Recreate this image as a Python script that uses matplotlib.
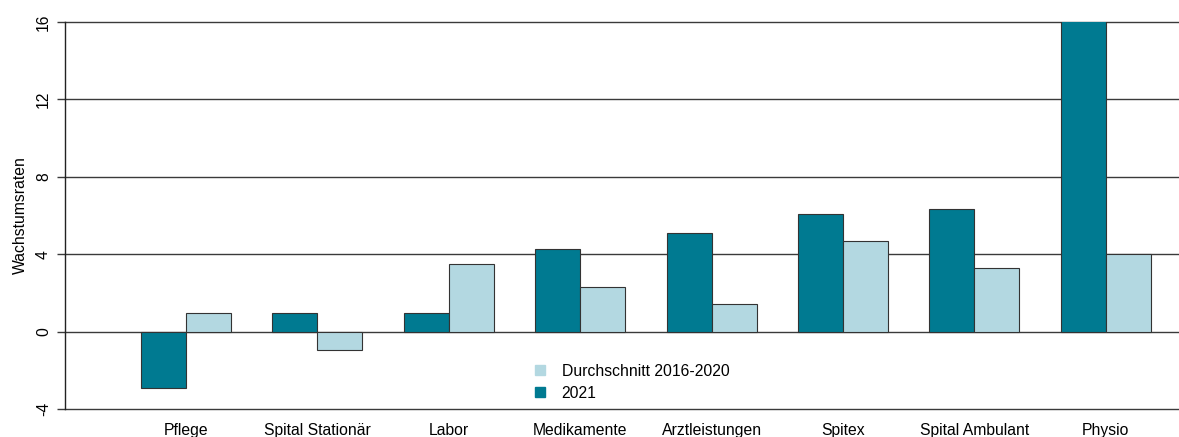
import matplotlib
matplotlib.use("Agg")
import matplotlib.pyplot as plt
from matplotlib.lines import Line2D
import numpy as np

plt.rcParams['font.family'] = ['Liberation Sans', 'DejaVu Sans']

# Data
kategorien = ["Pflege", "Spital Stationär", "Labor", "Medikamente",
              "Arztleistungen", "Spitex", "Spital Ambulant", "Physio"]
wert_2021 = [-2.9, 0.95, 0.95, 4.25, 5.1, 6.1, 6.35, 16.5]
durchschnitt = [0.95, -0.95, 3.5, 2.3, 1.45, 4.7, 3.3, 4.0]
y_ticks = [-4, 0, 4, 8, 12, 16]

dunkel = "#007A91"
hell = "#B3D8E1"
kante = "#333333"
fs = 11.3

fig = plt.figure(figsize=(11.79, 4.37), dpi=100)
ax = fig.add_axes([65 / 1179, 1 - 409 / 437, 1 - 65 / 1179, (409 - 22) / 437])

x = np.arange(len(kategorien))
w = 0.342
ax.bar(x - w / 2, wert_2021, width=w, color=dunkel, edgecolor=kante, linewidth=0.8, zorder=3)
ax.bar(x + w / 2, durchschnitt, width=w, color=hell, edgecolor=kante, linewidth=0.8, zorder=3)

# horizontal grid lines at every tick
for t in y_ticks:
    ax.axhline(t, color="#3a3a3a", linewidth=1.0, zorder=1, clip_on=False)

ax.set_ylim(-4, 16)
ax.set_xlim(-0.921, 7.557)
ax.set_yticks(y_ticks)
ax.set_yticklabels([str(t) for t in y_ticks], rotation=90, va="center", fontsize=fs)
ax.tick_params(axis="y", length=6, width=1, color="#3a3a3a", pad=4)
ax.set_xticks(x)
ax.set_xticklabels(kategorien, fontsize=fs)
ax.tick_params(axis="x", length=0, pad=10)
ax.set_ylabel("Wachstumsraten", fontsize=fs, labelpad=6)

for s in ["top", "right", "bottom"]:
    ax.spines[s].set_visible(False)
ax.spines["left"].set_color("#222222")
ax.spines["left"].set_linewidth(1.0)

handles = [Line2D([], [], marker="s", linestyle="none", color=hell, markersize=7.5),
           Line2D([], [], marker="s", linestyle="none", color=dunkel, markersize=7.5)]
fig.legend(handles, ["Durchschnitt 2016-2020", "2021"], loc="upper left",
           bbox_to_anchor=(524 / 1179, 1 - 356 / 437), frameon=False, fontsize=fs,
           handletextpad=0.9, labelspacing=0.45, handlelength=1.0, borderpad=0)

fig.savefig("out.png", dpi=100)
